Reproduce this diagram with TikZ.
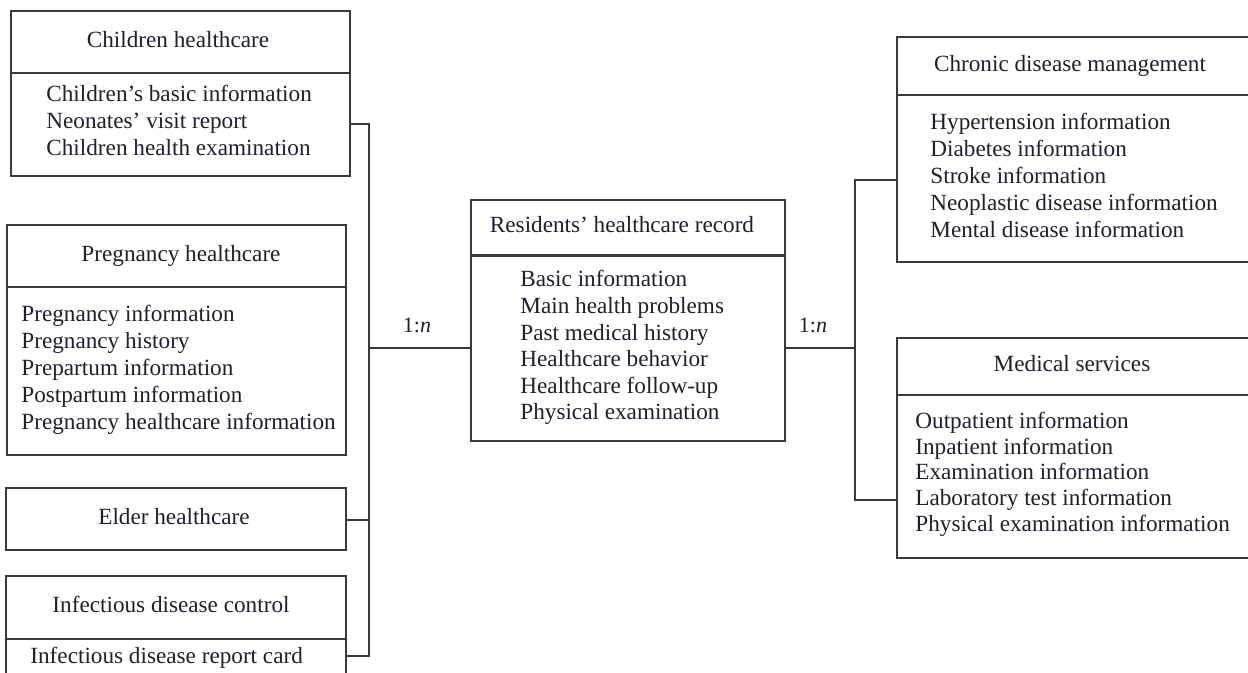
\documentclass[tikz,border=0pt]{standalone}
\usepackage{fontspec}
\setmainfont{Liberation Serif}
\definecolor{linec}{HTML}{3A3A3A}
\definecolor{txtc}{HTML}{1E2030}
\begin{document}
\begin{tikzpicture}[x=0.5pt,y=-0.5pt,
 box/.style={draw=linec, line width=0.8pt, inner sep=0pt, outer sep=0pt, anchor=north west},
 divider/.style={draw=linec, line width=0.8pt},
 conn/.style={draw=linec, line width=0.8pt},
 hdr/.style={inner sep=0pt, anchor=base, text=txtc, font=\fontsize{11.6}{13.5}\selectfont},
 item/.style={inner sep=0pt, anchor=base west, text=txtc, font=\fontsize{11.6}{13.5}\selectfont},
 lbl/.style={inner sep=0pt, anchor=base, text=txtc, font=\fontsize{11}{13}\selectfont}]
\clip (0,0) rectangle (1248,673);
\fill[white] (0,0) rectangle (1248,673);

% Boxes
\node[box, minimum width=169.5pt, minimum height=82.5pt] (ch) at (11,11) {};
\draw[divider] (11,73) -- (350,73);
\node[box, minimum width=169.5pt, minimum height=115pt] (pr) at (7,225) {};
\draw[divider] (7,287) -- (346,287);
\node[box, minimum width=170pt, minimum height=31pt] (el) at (6,488) {};
\node[box, minimum width=170pt, minimum height=60pt] (inf) at (6,576) {};
\draw[divider] (6,639) -- (346,639);
\node[box, minimum width=157pt, minimum height=120.5pt] (res) at (471,200) {};
\draw[divider, line width=1.5pt] (471,256) -- (785,256);
\node[box, minimum width=185pt, minimum height=112.5pt] (chr) at (897,37) {};
\draw[divider] (897,95) -- (1267,95);
\node[box, minimum width=185pt, minimum height=110pt] (med) at (897,338) {};
\draw[divider] (897,395) -- (1267,395);

% Headers
\node[hdr] (chh) at (178,48) {Children healthcare};
\node[hdr] (prh) at (181,262) {Pregnancy healthcare};
\node[hdr] (elh) at (174,524) {Elder healthcare};
\node[hdr] (infh) at (171,612) {Infectious disease control};
\node[hdr] (resh) at (622,233) {Residents’ healthcare record};
\node[hdr] (chrh) at (1070,72) {Chronic disease management};
\node[hdr] (medh) at (1072,372) {Medical services};

% Item lists
\foreach \t [count=\i] in {Children’s basic information, Neonates’ visit report, Children health examination}
  \node[item] (chl\i) at (46,{102+27*(\i-1)}) {\t};
\foreach \t [count=\i] in {Pregnancy information, Pregnancy history, Prepartum information, Postpartum information, Pregnancy healthcare information}
  \node[item] (prl\i) at (21,{322+27*(\i-1)}) {\t};
\node[item] (infl) at (30,663) {Infectious disease report card};
\foreach \t [count=\i] in {Basic information, Main health problems, Past medical history, Healthcare behavior, Healthcare follow-up, Physical examination}
  \node[item] (resl\i) at (520,{287+26.6*(\i-1)}) {\t};
\foreach \t [count=\i] in {Hypertension information, Diabetes information, Stroke information, Neoplastic disease information, Mental disease information}
  \node[item] (chrl\i) at (930,{130+26.8*(\i-1)}) {\t};
\foreach \t [count=\i] in {Outpatient information, Inpatient information, Examination information, Laboratory test information, Physical examination information}
  \node[item] (medl\i) at (915,{429+25.5*(\i-1)}) {\t};

% Labels
\node[lbl] (n1) at (417,333) {1:\textit{n}};
\node[lbl] (n2) at (813,333) {1:\textit{n}};

% Connectors
\coordinate (jL1) at (369,124);
\coordinate (jL2) at (369,348);
\coordinate (jL3) at (369,520);
\coordinate (jL4) at (369,656);
\coordinate (jR0) at (855,348);
\coordinate (jR1) at (855,180);
\coordinate (jR2) at (855,500);
\draw[conn] (ch.east |- jL1) -- (jL1) -- (jL4) -- (inf.east |- jL4);
\draw[conn] (el.east |- jL3) -- (jL3);
\draw[conn] (jL2) -- (res.west |- jL2);
\draw[conn] (res.east |- jR0) -- (jR0);
\draw[conn] (chr.west |- jR1) -- (jR1) -- (jR2) -- (med.west |- jR2);
\end{tikzpicture}
\end{document}
